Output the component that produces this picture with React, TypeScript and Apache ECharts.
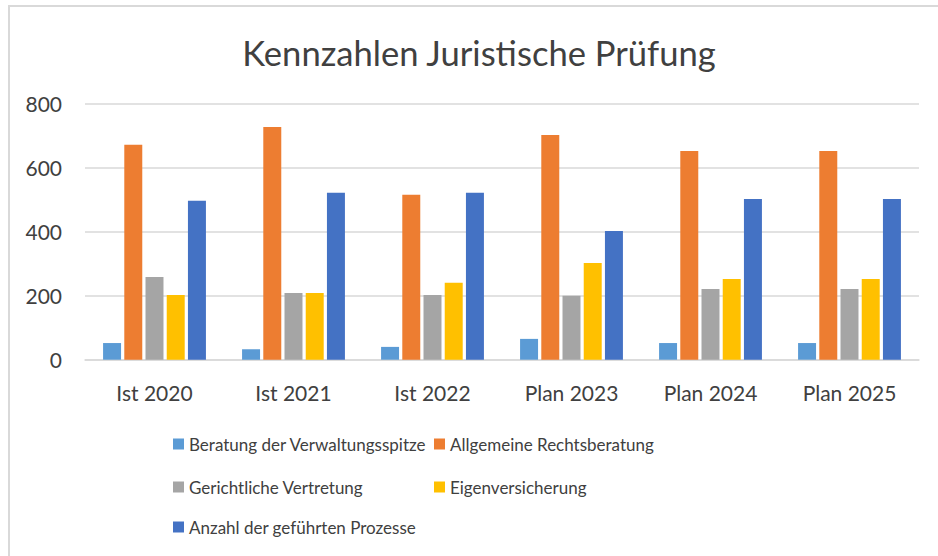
import React, { useEffect, useRef } from "react";
import * as echarts from "echarts";

const categories = ["Ist 2020", "Ist 2021", "Ist 2022", "Plan 2023", "Plan 2024", "Plan 2025"];
const seriesNames = [
  "Beratung der Verwaltungsspitze",
  "Allgemeine Rechtsberatung",
  "Gerichtliche Vertretung",
  "Eigenversicherung",
  "Anzahl der geführten Prozesse",
];
const beratung = [52, 33, 40, 65, 52, 52];
const allgemein = [671, 727, 515, 702, 652, 652];
const gericht = [258, 208, 202, 200, 221, 221];
const eigen = [202, 208, 240, 302, 252, 252];
const prozesse = [496, 521, 521, 402, 502, 502];
const yTicks = [0, 200, 400, 600, 800];
const colors = ["#5B9BD5", "#ED7D31", "#A5A5A5", "#FFC000", "#4472C4"];
const title = "Kennzahlen Juristische Prüfung";

const TEXT = "#404040";
const FONT = "Lato";

export default function App() {
  const ref = useRef<HTMLDivElement>(null);
  useEffect(() => {
    if (!ref.current) return;
    const chart = echarts.init(ref.current, undefined, { renderer: "svg" });
    const values = [beratung, allgemein, gericht, eigen, prozesse];
    const legendPos = [
      { left: 173, top: 434 },
      { left: 434, top: 434 },
      { left: 173, top: 477 },
      { left: 434, top: 477 },
      { left: 173, top: 517 },
    ];
    chart.setOption({
      animation: false,
      textStyle: { fontFamily: FONT },
      graphic: [
        {
          type: "rect",
          shape: { x: 9, y: 6, width: 1000, height: 1000 },
          style: { fill: "none", stroke: "#D9D9D9", lineWidth: 2 },
          silent: true,
        },
        {
          type: "text",
          x: 479,
          y: 52,
          style: {
            text: title,
            fontFamily: FONT,
            fontSize: 34.6,
            fill: TEXT,
            textAlign: "center",
            textVerticalAlign: "middle",
          },
        },
      ],
      legend: seriesNames.map((n, i) => ({
        data: [n],
        left: legendPos[i].left,
        top: legendPos[i].top,
        itemWidth: 11,
        itemHeight: 11,
        icon: "rect",
        padding: 0,
        textStyle: { fontFamily: FONT, fontSize: 17, color: TEXT, lineHeight: 20, padding: [0, 0, 0, 0] },
        selectedMode: false,
      })),
      grid: { left: 85, right: 19, top: 103.5, bottom: 196.3, containLabel: false },
      xAxis: {
        type: "category",
        data: categories,
        axisTick: { show: false },
        axisLine: { lineStyle: { color: "#D9D9D9", width: 1.5 } },
        axisLabel: { fontFamily: FONT, fontSize: 21, color: TEXT, margin: 22 },
      },
      yAxis: {
        type: "value",
        min: yTicks[0],
        max: yTicks[yTicks.length - 1],
        interval: 200,
        axisLine: { show: false },
        axisTick: { show: false },
        axisLabel: { fontFamily: FONT, fontSize: 21, color: TEXT, margin: 23 },
        splitLine: { lineStyle: { color: "#D9D9D9", width: 1.5 } },
      },
      series: seriesNames.map((n, i) => ({
        name: n,
        type: "bar",
        data: values[i],
        itemStyle: { color: colors[i] },
        barGap: "18%",
        barCategoryGap: "26%",
      })),
    });
    return () => chart.dispose();
  }, []);
  return (
    <div
      ref={ref}
      style={{ position: "absolute", left: 0, top: 0, width: 938, height: 556, background: "#fff" }}
    />
  );
}
